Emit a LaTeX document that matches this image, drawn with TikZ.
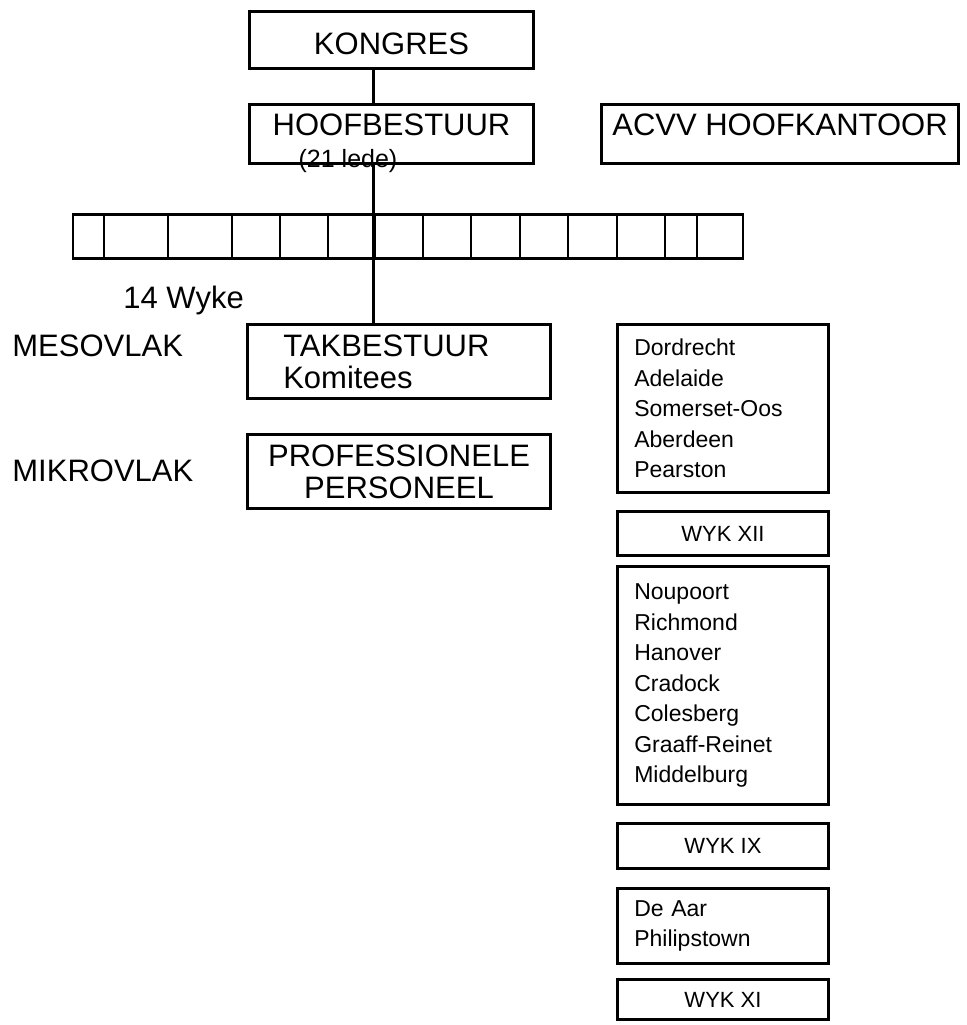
\documentclass[tikz,border=0pt]{standalone}
\usepackage{fontspec}
\setmainfont{Liberation Sans}
\usetikzlibrary{positioning}
\newcommand{\orgfont}{\fontsize{15.5}{16}\selectfont}
\newcommand{\placefont}{\fontsize{11.5}{15.25}\selectfont}
\tikzstyle{orgbox} = [draw, line width=1.3pt, inner sep=0pt, align=center, font=\orgfont]
\tikzstyle{wykcell} = [draw, line width=1.3pt, inner sep=0pt, minimum height=22.2pt]
\tikzstyle{levellabel} = [inner sep=0pt, anchor=base west, font=\orgfont]
\tikzstyle{placebox} = [draw, line width=1.3pt, inner xsep=8.5pt, inner ysep=0pt, text width=88.7pt, align=left, font=\placefont]
\tikzstyle{wykbox} = [draw, line width=1.3pt, inner sep=0pt, minimum width=105.7pt, font=\fontsize{11}{13}\selectfont]
\tikzstyle{line} = [line width=1.3pt]

\begin{document}
\begin{tikzpicture}[x=0.5pt, y=-0.5pt]
    \useasboundingbox (0,0) rectangle (966,1025);

    \node[orgbox, minimum width=142.2pt, minimum height=28.7pt, text height=14.5pt, text depth=0pt] (kongres) at (391.5,40) {KONGRES};
    \node[orgbox, minimum width=142.2pt, minimum height=29.7pt, text height=11pt, text depth=9.5pt] (hoof) at (391.5,134) {HOOFBESTUUR};
    \node[inner sep=0pt, anchor=base, font=\fontsize{12.5}{13}\selectfont] (lede) at (348,167) {(21 lede)};
    \node[orgbox, minimum width=178.7pt, minimum height=29.7pt, text height=11pt, text depth=9.5pt] (acvv) at (780,134) {ACVV HOOFKANTOOR};

    \foreach \l/\r [count=\i] in {73/104, 104/168, 168/232, 232/280, 280/328, 328/375, 375/423,
                                  423/471, 471/520, 520/568, 568/617, 617/665, 665/697, 697/743}
        \node[wykcell, minimum width={(\r-\l)*0.5pt}] (wyk\i) at ({(\l+\r)/2},236.5) {};

    \node[levellabel] (wyke) at (123,308) {14 Wyke};
    \node[levellabel] (meso) at (12,356) {MESOVLAK};
    \node[levellabel] (mikro) at (12,481) {MIKROVLAK};

    \node[orgbox, align=left, inner xsep=18pt, text width=115.7pt, minimum height=37.2pt] (tak) at (399,361.5) {TAKBESTUUR\\Komitees};
    \node[orgbox, minimum width=151.7pt, minimum height=37.2pt] (prof) at (399,471.5) {PROFESSIONELE\\PERSONEEL};

    \draw[line] (kongres.south -| wyk7.west) -- (hoof.north -| wyk7.west);
    \draw[line] (hoof.south -| wyk7.west) -- (tak.north -| wyk7.west);

    \node[placebox, minimum height=84.2pt] (wykxiilist) at (723,408.5) {Dordrecht\\Adelaide\\Somerset-Oos\\Aberdeen\\Pearston};
    \node[wykbox, minimum height=22.2pt, below=8pt of wykxiilist] (wykxii) {WYK XII};
    \node[placebox, minimum height=119.2pt, below=4pt of wykxii] (wykixlist) {Noupoort\\Richmond\\Hanover\\Cradock\\Colesberg\\Graaff-Reinet\\Middelburg};
    \node[wykbox, minimum height=22.7pt, below=8pt of wykixlist] (wykix) {WYK IX};
    \node[placebox, minimum height=37.7pt, below=8.5pt of wykix] (wykxilist) {De Aar\\Philipstown};
    \node[wykbox, minimum height=20.2pt, below=6.5pt of wykxilist] (wykxi) {WYK XI};
\end{tikzpicture}
\end{document}
